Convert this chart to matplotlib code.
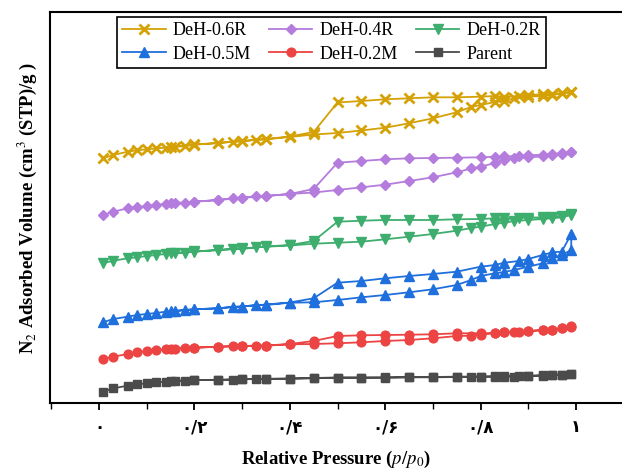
import matplotlib
matplotlib.use("Agg")
import matplotlib.pyplot as plt
from matplotlib.ticker import MultipleLocator

# Relative pressure grids (adsorption then desorption branch)
ads_p = [0.008, 0.03, 0.06, 0.08, 0.10, 0.12, 0.14, 0.16, 0.18, 0.20, 0.25, 0.28, 0.30,
         0.33, 0.35, 0.40, 0.45, 0.50, 0.55, 0.60, 0.65, 0.70, 0.75, 0.78, 0.80, 0.83,
         0.85, 0.87, 0.90, 0.93, 0.95, 0.97, 0.99]
des_p = [0.99, 0.97, 0.95, 0.93, 0.90, 0.88, 0.85, 0.83, 0.80, 0.75, 0.70, 0.65, 0.60,
         0.55, 0.50, 0.45, 0.40, 0.35, 0.30, 0.25, 0.20, 0.15]

# Volumes (arbitrary, offset stacked units as drawn)
r06_ads = [244.7, 248, 251.3, 252.7, 253.7, 254.7, 255.3, 256.3, 256.7, 258.3, 260, 261.3, 261.7,
           263.3, 263.7, 266, 268.5, 270, 272.5, 275.3, 279.7, 284.7, 290.7, 296, 298, 301,
           302.3, 304.7, 306.3, 307, 308, 309.7, 311.3]
r06_des = [310.7, 309.7, 309.2, 308.7, 308, 307, 306.3, 307, 306.3, 305.7, 305.7, 304.7, 303.7,
           302, 300.5, 271, 266.5, 264, 262, 260, 258.5, 256]

r04_ads = [188, 191.3, 194.7, 195.7, 197, 198, 199, 199.7, 200.3, 201.3, 203, 204.7, 205,
           207, 207, 209, 210.5, 213, 215.7, 218.3, 222, 225.7, 230.7, 234.5, 236.3, 240,
           243, 244.7, 245.7, 246.5, 248, 249, 251.3]
r04_des = [250.7, 249.7, 249, 248.3, 247.7, 247, 246.5, 246.3, 245.7, 245.3, 245, 244.7, 243.7,
           242, 240.3, 214, 209, 207, 205, 203, 201.3, 199.7]

r02_ads = [139.7, 142.3, 144.7, 145.7, 147, 148, 149, 149.7, 150.3, 151.3, 153, 154, 154,
           155.7, 156.3, 157.5, 159.3, 160.3, 161.3, 163.7, 166.3, 169, 172.3, 175, 176.3, 179,
           180.3, 182, 183, 184, 184.7, 185.7, 188]
r02_des = [188.7, 187, 186.3, 185.7, 185.3, 185, 184.7, 184.7, 184, 183.7, 183, 183, 183,
           182.3, 181.3, 162, 158, 156.5, 154.5, 153, 151.5, 149.7]

m05_ads = [80.7, 84, 86.3, 88, 89, 90, 91.3, 92, 93, 93.7, 94.7, 96.3, 96.5,
           98, 98, 100.3, 100.7, 103, 105.7, 108, 110.7, 113.7, 118, 123, 127, 129.7,
           131, 133, 136.3, 139.7, 144.7, 148, 153]
m05_des = [169, 151.3, 150.7, 148, 144, 142, 140.3, 138, 136.3, 131.3, 129, 127, 124.7,
           122, 120.3, 104.7, 100.5, 98.5, 96.5, 94.7, 93.7, 91.7]

m02_ads = [44, 46.3, 49, 50.7, 52, 53, 53.7, 54.3, 54.7, 55.3, 56.3, 56.7, 57,
           57.3, 57.3, 58.7, 59, 59.7, 60.7, 62, 63, 64.7, 67, 67.3, 68.5, 69.7,
           70.7, 71.5, 72, 72.7, 73, 74.7, 77]
m02_des = [76.5, 75, 73, 73, 72, 71.5, 71, 70, 69.7, 69.7, 68.7, 68.3, 68,
           67.7, 67, 62, 59, 57.5, 57, 56.3, 55.3, 54.5]

par_ads = [11.3, 14.7, 17.3, 18.7, 19.7, 20.7, 21.3, 22, 22, 23, 23, 23.5, 23.7,
           24, 24, 24.3, 24.7, 25.3, 25.3, 25.3, 25.7, 25.7, 26, 26, 26.3, 26.3,
           26.3, 26.5, 27, 27.5, 27.7, 28.3, 29.3]
par_des = [29.3, 28.5, 28, 27.7, 27.2, 27, 26.8, 26.7, 26.5, 26.3, 26, 25.8, 25.6,
           25.5, 25.5, 25, 24.5, 24.2, 23.8, 23.2, 23, 22]

labels = ["DeH-0.6R", "DeH-0.4R", "DeH-0.2R", "DeH-0.5M", "DeH-0.2M", "Parent"]
tick_vals = [0, 0.2, 0.4, 0.6, 0.8, 1.0]
tick_labels = ["۰", "۰/۲", "۰/۴", "۰/۶", "۰/۸", "۱"]

series = [
    (labels[0], r06_ads, r06_des, "#D4A106", "x", 7.5, 2.0),
    (labels[1], r04_ads, r04_des, "#B47CDC", "D", 5.5, 1.0),
    (labels[2], r02_ads, r02_des, "#3DAE6E", "v", 7, 1.0),
    (labels[3], m05_ads, m05_des, "#1F6FDC", "^", 7, 1.0),
    (labels[4], m02_ads, m02_des, "#EC4343", "o", 6.3, 1.0),
    (labels[5], par_ads, par_des, "#4B4B4B", "s", 6, 1.0),
]

plt.rcParams["font.family"] = ["Liberation Serif", "DejaVu Sans"]
plt.rcParams["mathtext.fontset"] = "stix"

fig = plt.figure(figsize=(6.22, 4.70), dpi=100)
ax = fig.add_axes([50 / 622, 67 / 470, 1 - 50 / 622, (403 - 12) / 470])

handles = {}
for name, a, d, col, mk, ms, mew in series:
    xs = ads_p + des_p
    ys = a + d
    h, = ax.plot(xs, ys, color=col, marker=mk, markersize=ms, markeredgewidth=mew,
                 linewidth=1.3, markeredgecolor=col, markerfacecolor=col, label=name)
    handles[name] = h

ax.set_xlim(-0.1027, 1.0964)
ax.set_ylim(0, 391)
ax.set_yticks([])
ax.spines["right"].set_visible(False)
for s in ["left", "top", "bottom"]:
    ax.spines[s].set_linewidth(1.5)

ax.set_xticks(tick_vals)
ax.set_xticklabels(tick_labels, fontweight="bold", fontsize=12,
                   family=["DejaVu Sans"])
ax.xaxis.set_minor_locator(MultipleLocator(0.1))
ax.tick_params(axis="x", which="major", direction="out", length=5, width=1.3, pad=6)
ax.tick_params(axis="x", which="minor", direction="out", length=4, width=1.0)

ax.set_xlabel(r"Relative Pressure ($\it{p/p}_{0}$)", fontsize=13.5, fontweight="bold", labelpad=9)
ax.set_ylabel(r"N$_2$ Adsorbed Volume (cm$^3$ (STP)/g )", fontsize=13.5, fontweight="bold", labelpad=8)

order = [labels[0], labels[3], labels[1], labels[4], labels[2], labels[5]]
leg = fig.legend([handles[n] for n in order], order, ncol=3, loc="upper center",
                 bbox_to_anchor=(331.5 / 622, 1 - 17 / 470), fontsize=13,
                 frameon=True, fancybox=False, edgecolor="black", framealpha=1,
                 handlelength=2.4, columnspacing=1.0, handletextpad=0.4,
                 borderpad=0.3, labelspacing=0.35, borderaxespad=0)
leg.get_frame().set_linewidth(1.2)

fig.savefig("out.png", dpi=100)
